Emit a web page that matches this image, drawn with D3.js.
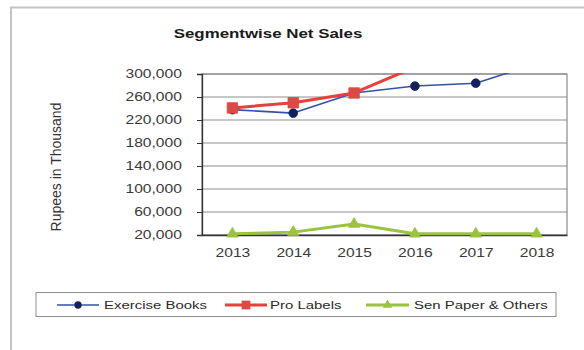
<!DOCTYPE html>
<html>
<head>
<meta charset="utf-8">
<script src="https://cdn.jsdelivr.net/npm/d3@7"></script>
<style>
  html, body { margin: 0; padding: 0; background: #fff; }
  svg { display: block; font-family: Arial, "Liberation Sans", sans-serif; }
</style>
</head>
<body>
<svg id="chart" width="584" height="350"></svg>
<script>
// Segmentwise net sales, rupees in thousand
const years = ["2013", "2014", "2015", "2016", "2017", "2018"];
const exerciseBooks = [238000, 232000, 267000, 279000, 284000, 318000];
const proLabels = [241000, 250000, 267000, 312000, 335000, 360000];
const senPaper = [22000, 25000, 39000, 22000, 22000, 22000];
const yTicks = [20000, 60000, 100000, 140000, 180000, 220000, 260000, 300000];

const seriesNames = ["Exercise Books", "Pro Labels", "Sen Paper & Others"];
const seriesValues = [exerciseBooks, proLabels, senPaper];
const seriesStyle = [
  { line: "#3552a8", marker: "#14205e", width: 1.6, shape: d3.symbolCircle, size: 60 },
  { line: "#e8403a", marker: "#dd4a45", width: 3, shape: d3.symbolSquare, size: 110 },
  { line: "#9cc33e", marker: "#9cc33e", width: 3, shape: d3.symbolTriangle, size: 55 }
];

const SX = 1.3; // horizontal widening of text
const svg = d3.select("#chart");

// outer chart frame
svg.append("path")
  .attr("d", "M11,350 V7.5 H584")
  .attr("fill", "none").attr("stroke", "#c4c4c4").attr("stroke-width", 2);

const plot = { left: 202, right: 567, top: 74, bottom: 235 };

const x = d3.scalePoint().domain(years).range([plot.left, plot.right]).padding(0.5);
const y = d3.scaleLinear().domain([20000, 300000]).range([plot.bottom, plot.top]);

// title
svg.append("text")
  .attr("transform", `translate(268,38) scale(${SX},1)`)
  .attr("text-anchor", "middle")
  .attr("font-size", 13).attr("font-weight", "bold").attr("fill", "#1a1a1a")
  .text("Segmentwise Net Sales");

// y axis title
svg.append("text")
  .attr("transform", `translate(61,167) scale(1.1,1) rotate(-90)`)
  .attr("text-anchor", "middle")
  .attr("font-size", 14).attr("fill", "#333")
  .text("Rupees in Thousand");

// horizontal gridlines
svg.append("g").selectAll("line").data(yTicks).join("line")
  .attr("x1", plot.left).attr("x2", plot.right)
  .attr("y1", d => y(d)).attr("y2", d => y(d))
  .attr("stroke", "#8e8e8e").attr("stroke-width", 1);

// plot area frame
svg.append("rect")
  .attr("x", plot.left).attr("y", plot.top)
  .attr("width", plot.right - plot.left).attr("height", plot.bottom - plot.top)
  .attr("fill", "none").attr("stroke", "#8a8a8a").attr("stroke-width", 1.2);

// y axis
const yAxis = svg.append("g")
  .attr("transform", `translate(${plot.left},0)`)
  .call(d3.axisLeft(y).tickValues(yTicks).tickSize(5).tickPadding(10.5)
    .tickFormat(d3.format(",")));
yAxis.select(".domain").attr("stroke", "#333").attr("stroke-width", 1.3);
yAxis.selectAll(".tick line").attr("stroke", "#333");
yAxis.selectAll(".tick text")
  .attr("font-size", 12).attr("fill", "#3a3a3a")
  .attr("font-family", "Arial, 'Liberation Sans', sans-serif")
  .attr("transform", `scale(${SX},1)`);

// x axis
const xAxis = svg.append("g")
  .attr("transform", `translate(0,${plot.bottom})`)
  .call(d3.axisBottom(x).tickSize(0).tickPadding(13));
xAxis.select(".domain").attr("stroke", "#333").attr("stroke-width", 1.3);
xAxis.selectAll(".tick text")
  .attr("font-size", 12).attr("fill", "#3a3a3a")
  .attr("font-family", "Arial, 'Liberation Sans', sans-serif")
  .attr("transform", `scale(${SX},1)`);

// clip marks to the plot area
svg.append("clipPath").attr("id", "plotClip")
  .append("rect")
  .attr("x", plot.left).attr("y", plot.top - 1)
  .attr("width", plot.right - plot.left).attr("height", plot.bottom - plot.top + 12);

const marks = svg.append("g").attr("clip-path", "url(#plotClip)");
const line = d3.line().x((d, i) => x(years[i])).y(d => y(d));

seriesValues.forEach((vals, s) => {
  const st = seriesStyle[s];
  const g = marks.append("g");
  g.append("path").datum(vals)
    .attr("d", line)
    .attr("fill", "none").attr("stroke", st.line)
    .attr("stroke-width", st.width).attr("stroke-linejoin", "round");
  g.selectAll("path.m").data(vals).join("path")
    .attr("class", "m")
    .attr("transform", (d, i) => `translate(${x(years[i])},${y(d)})`)
    .attr("d", d3.symbol().type(st.shape).size(st.size))
    .attr("fill", st.marker).attr("stroke", st.marker).attr("stroke-width", 0.8);
});

// legend
svg.append("rect")
  .attr("x", 36).attr("y", 292.5).attr("width", 520).attr("height", 24)
  .attr("fill", "none").attr("stroke", "#909090").attr("stroke-width", 1);

const legendX = [{ l: 57, r: 99, t: 104 }, { l: 225, r: 267, t: 270 }, { l: 366, r: 409, t: 414 }];
seriesNames.forEach((name, s) => {
  const st = seriesStyle[s];
  const p = legendX[s];
  const ly = 305;
  svg.append("line")
    .attr("x1", p.l).attr("x2", p.r).attr("y1", ly).attr("y2", ly)
    .attr("stroke", st.line).attr("stroke-width", st.width);
  svg.append("path")
    .attr("transform", `translate(${(p.l + p.r) / 2},${ly})`)
    .attr("d", d3.symbol().type(st.shape).size(st.size * 0.7))
    .attr("fill", st.marker);
  svg.append("text")
    .attr("transform", `translate(${p.t},${ly + 4}) scale(${SX},1)`)
    .attr("font-size", 11.5).attr("fill", "#2a2a2a")
    .text(name);
});
</script>
</body>
</html>
